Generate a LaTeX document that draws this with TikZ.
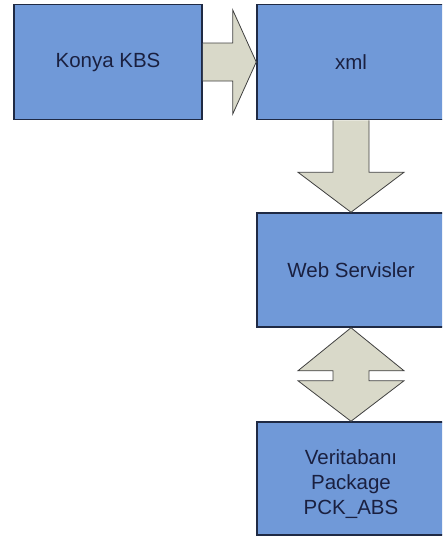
\documentclass[tikz,border=0pt]{standalone}
\usepackage{fontspec}
\setmainfont{Liberation Sans}
\usetikzlibrary{calc}

\definecolor{boxblue}{HTML}{7099D8}
\definecolor{boxline}{HTML}{1F2A44}
\definecolor{arrowfill}{HTML}{D9D9C9}
\definecolor{textnavy}{HTML}{1A2040}

\begin{document}
\begin{tikzpicture}[x=1pt,y=-1pt,
    kutu/.style={draw=boxline, line width=1.5pt, fill=boxblue, text=textnavy,
        minimum width=188pt, align=center, inner sep=0pt,
        font=\fontsize{20.5}{25}\selectfont},
    okblok/.style={draw=black!75, line width=0.8pt, fill=arrowfill, line join=miter}]
            \clip (0,0) rectangle (442,546);

            \node [kutu, minimum height=115pt] (konya) at (108,62) {Konya KBS};
            \node [kutu, minimum height=115pt] (xml) at (351,62) {xml};
            \node [kutu, minimum height=114pt] (web) at (351,270) {Web Servisler};
            \node [kutu, minimum height=113pt] (db) at (351,478.5) {};
            \node [text=textnavy, align=center, inner sep=0pt,
                font=\fontsize{20.5}{25}\selectfont] (dbyazi) at ($(db.center)+(0,6)$)
                {Veritaban\i\\Package\\PCK\_ABS};

            % konya -> xml
            \draw [okblok] ($(konya.east)+(0,-19)$) -- ($(konya.east)+(30,-19)$)
                -- ($(konya.east)+(30,-52)$) -- (xml.west)
                -- ($(konya.east)+(30,52)$) -- ($(konya.east)+(30,19)$)
                -- ($(konya.east)+(0,19)$);

            % xml -> web
            \draw [okblok] ($(xml.south)+(-18,0)$) -- ($(xml.south)+(-18,52)$)
                -- ($(xml.south)+(-53,52)$) -- (web.north)
                -- ($(xml.south)+(53,52)$) -- ($(xml.south)+(18,52)$)
                -- ($(xml.south)+(18,0)$);

            % web <-> db
            \draw [okblok] (web.south) -- ($(web.south)+(53,43)$)
                -- ($(web.south)+(18,43)$) -- ($(web.south)+(18,53)$)
                -- ($(web.south)+(53,53)$) -- (db.north)
                -- ($(web.south)+(-53,53)$) -- ($(web.south)+(-18,53)$)
                -- ($(web.south)+(-18,43)$) -- ($(web.south)+(-53,43)$) -- cycle;
\end{tikzpicture}
\end{document}
